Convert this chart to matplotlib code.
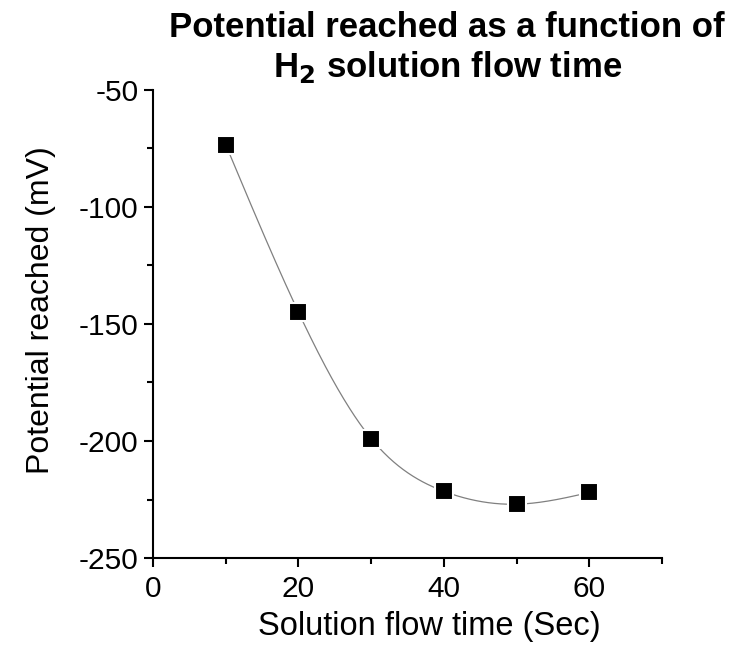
import matplotlib
matplotlib.use("Agg")
import matplotlib.pyplot as plt
from matplotlib.ticker import MultipleLocator
import numpy as np

plt.rcParams['font.family'] = ['Liberation Sans', 'DejaVu Sans']
plt.rcParams['axes.unicode_minus'] = False

# data
flow_time = np.array([10, 20, 30, 40, 50, 60])          # Sec
potential = np.array([-73.5, -145, -199, -221.5, -227, -222])  # mV


def natural_spline(x, y, xs):
    # plain natural cubic spline through the measured points
    n = len(x)
    h = np.diff(x)
    A = np.zeros((n, n))
    b = np.zeros(n)
    A[0, 0] = A[-1, -1] = 1
    for i in range(1, n - 1):
        A[i, i - 1] = h[i - 1]
        A[i, i] = 2 * (h[i - 1] + h[i])
        A[i, i + 1] = h[i]
        b[i] = 6 * ((y[i + 1] - y[i]) / h[i] - (y[i] - y[i - 1]) / h[i - 1])
    m = np.linalg.solve(A, b)
    out = np.empty_like(xs)
    for k, xv in enumerate(xs):
        i = min(np.searchsorted(x, xv, side='right') - 1, n - 2)
        t = xv - x[i]
        hi = h[i]
        a = y[i]
        bb = (y[i + 1] - y[i]) / hi - hi * (2 * m[i] + m[i + 1]) / 6
        c = m[i] / 2
        d = (m[i + 1] - m[i]) / (6 * hi)
        out[k] = a + bb * t + c * t ** 2 + d * t ** 3
    return out


xs = np.linspace(flow_time[0], flow_time[-1], 300)
ys = natural_spline(flow_time, potential, xs)

fig = plt.figure(figsize=(7.43, 6.55), dpi=100)
ax = fig.add_axes([0.206, 0.148, 0.685, 0.715])

ax.plot(xs, ys, color='#808080', linewidth=0.9, zorder=2)
ax.plot(flow_time, potential, 's', color='black', markersize=13.5,
        markeredgecolor='white', markeredgewidth=1.5, zorder=3)

ax.set_xlim(0, 70)
ax.set_ylim(-250, -50)
ax.xaxis.set_major_locator(MultipleLocator(20))
ax.xaxis.set_minor_locator(MultipleLocator(10))
ax.yaxis.set_major_locator(MultipleLocator(50))
ax.yaxis.set_minor_locator(MultipleLocator(25))

for s in ['top', 'right']:
    ax.spines[s].set_visible(False)
for s in ['left', 'bottom']:
    ax.spines[s].set_linewidth(1.5)
ax.tick_params(which='major', direction='out', length=6.5, width=1.5, labelsize=21.5)
ax.tick_params(which='minor', direction='out', length=4.3, width=1.5)
ax.tick_params(axis='x', which='major', pad=6)
ax.tick_params(axis='y', which='major', pad=4)

ax.set_xlabel('Solution flow time (Sec)', fontsize=23.5)
ax.set_ylabel('Potential reached (mV)', fontsize=23)
ax.xaxis.set_label_coords(0.542, -0.113)
ax.yaxis.set_label_coords(-0.19, 0.53)

fig.text(0.602, 0.9435, 'Potential reached as a function of',
         ha='center', va='baseline', fontsize=25, fontweight='bold')
fig.text(0.602, 0.8824, 'H$_\\mathbf{2}$ solution flow time',
         ha='center', va='baseline', fontsize=25, fontweight='bold')

fig.savefig('out.png', dpi=100)
